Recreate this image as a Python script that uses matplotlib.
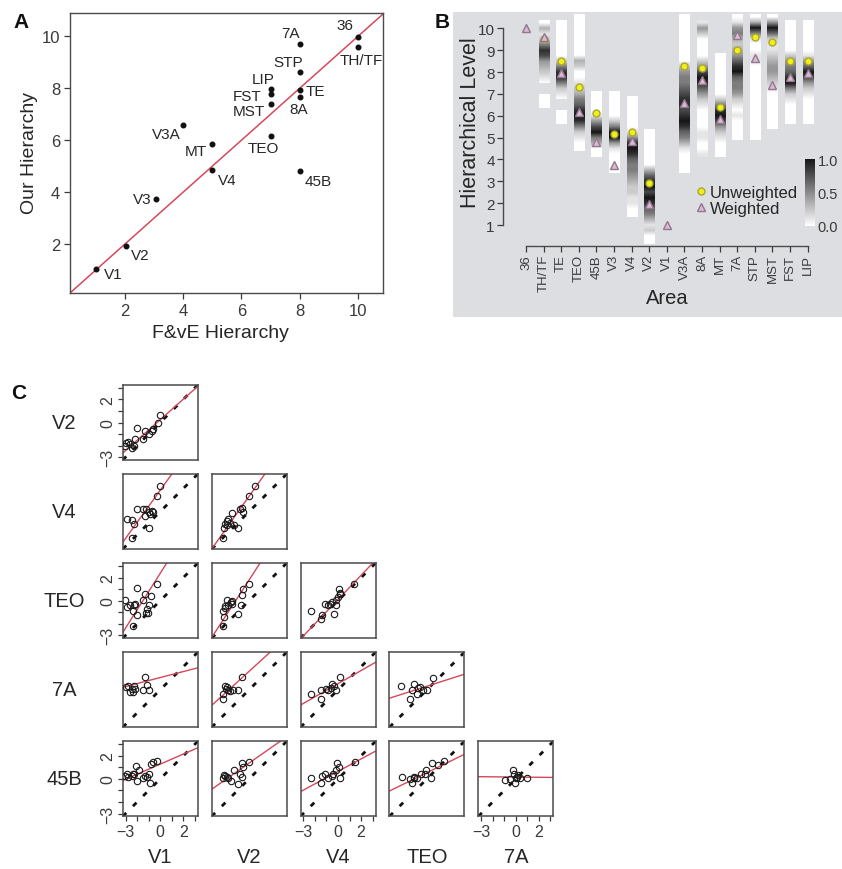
import numpy as np
import matplotlib.pyplot as plt
from matplotlib.patches import Rectangle
from matplotlib.lines import Line2D
from matplotlib.colors import LinearSegmentedColormap, Normalize
from matplotlib.cm import ScalarMappable

plt.rcParams['font.family'] = ['Liberation Sans', 'DejaVu Sans']
plt.rcParams['text.color'] = '#262626'
plt.rcParams['xtick.color'] = '#3a3a3a'
plt.rcParams['ytick.color'] = '#3a3a3a'

W, H = 842, 870
NAN = np.nan

# ---------------- panel A data ----------------
a_areas = ['V1', 'V2', 'V3', 'V3A', 'MT', 'V4', 'TEO', 'MST', 'FST', 'LIP',
           '45B', '8A', 'TE', 'STP', '7A', '36', 'TH/TF']
a_fve = [1, 2.05, 3.05, 4, 5, 5, 7, 7, 7, 7, 8, 8, 8, 8, 8, 10, 10]
a_ours = [1.04, 1.94, 3.73, 6.58, 5.85, 4.86, 6.16, 7.39, 7.78, 7.96,
          4.80, 7.65, 7.94, 8.63, 9.69, 9.98, 9.60]

# where the name sits relative to its dot (layout only)
a_label_off = {'V1': (0.6, -0.21), 'V2': (0.46, -0.37), 'V3': (-0.45, 0.0),
               'V3A': (-0.57, -0.34), 'MT': (-0.56, -0.26), 'V4': (0.5, -0.41),
               'TEO': (-0.25, -0.46), 'MST': (-0.76, -0.28), 'FST': (-0.8, -0.09),
               'LIP': (-0.27, 0.38), '45B': (0.64, -0.36), '8A': (-0.04, -0.45),
               'TE': (0.53, -0.05), 'STP': (-0.39, 0.4), '7A': (-0.33, 0.44),
               '36': (-0.44, 0.44), 'TH/TF': (0.1, -0.5)}

# ---------------- panel B data ----------------
b_areas = ['36', 'TH/TF', 'TE', 'TEO', '45B', 'V3', 'V4', 'V2', 'V1',
           'V3A', '8A', 'MT', '7A', 'STP', 'MST', 'FST', 'LIP']
b_unweighted = [NAN, 9.51, 8.52, 7.30, 6.13, 5.16, 5.24, 2.91, NAN,
                8.27, 8.17, 6.38, 9.02, 9.62, 9.36, 8.52, 8.52]
b_weighted = [10.0, 9.60, 7.94, 6.16, 4.80, 3.73, 4.86, 1.94, 1.0,
              6.58, 7.65, 5.85, 9.69, 8.63, 7.39, 7.78, 7.96]
# posterior density strips: top level, then one digit (0-9) per 0.25 level going down, '.' = none
b_strip_top = {'TH/TF': 10.25, 'TE': 10.25, 'TEO': 10.5, '45B': 7.0, 'V3': 7.0,
               'V4': 6.75, 'V2': 5.25, 'V3A': 10.5, '8A': 10.25, 'MT': 8.75,
               '7A': 10.5, 'STP': 10.5, 'MST': 10.5, 'FST': 10.25, 'LIP': 10.25}
b_strip_vals = {'TH/TF': '031258743210.000',
                'TE': '000000025885210.000',
                'TEO': '0000000032001235689852100',
                '45B': '000014795300',
                'V3': '000002599410000',
                'V4': '0000001489865543221100',
                'V2': '000000036897986531200',
                'V3A': '00000000024556788789865310000',
                '8A': '1420000247986421000011001',
                'MT': '0000000025897421000',
                '7A': '01453234689655421010000',
                'STP': '03951001100000000000000',
                'MST': '049621123443210000000',
                'FST': '0000002456895210000',
                'LIP': '0000001469742100000'}

# ---------------- panel C data ----------------
c_rows = ['V2', 'V4', 'TEO', '7A', '45B']
c_cols = ['V1', 'V2', 'V4', 'TEO', '7A']
pairs = {
    ('V2', 'V1'): [(-3.0, -1.75), (-2.8, -1.65), (-3.05, -2.0), (-2.6, -1.9), (-2.45, -2.25),
                   (-2.3, -2.0), (-2.15, -1.45), (-2.05, -0.5), (-1.45, -1.45), (-1.35, -0.7),
                   (-0.95, -1.0), (-0.75, -0.7), (-0.6, -0.6), (-0.2, 0.0), (0.0, 0.65)],
    ('V4', 'V1'): [(-2.9, -0.65), (-2.45, -0.75), (-2.45, -2.3), (-2.25, -1.1), (-2.05, 0.2),
                   (-1.45, 0.25), (-1.3, -0.35), (-1.2, 0.2), (-1.0, -1.4), (-0.95, -0.05),
                   (-0.85, -0.2), (-0.75, 0.05), (-0.65, 0.0), (-0.3, 1.35), (0.0, 2.25)],
    ('V4', 'V2'): [(-2.3, -2.3), (-2.2, -1.45), (-2.1, -1.1), (-1.95, -0.8), (-1.8, -0.65),
                   (-1.65, -0.95), (-1.95, -1.2), (-1.45, -0.15), (-1.3, -1.15), (-1.0, -1.4),
                   (-0.75, 0.25), (-0.65, 0.3), (-0.55, -0.05), (-0.05, 1.35), (0.55, 2.25)],
    ('TEO', 'V1'): [(-3.05, 0.07), (-2.9, -0.54), (-2.6, -0.36), (-2.38, -0.88), (-2.27, -0.39),
                    (-2.18, -0.3), (-2.04, 1.14), (-2.04, -1.26), (-2.33, -2.18), (-1.46, 0.07),
                    (-1.31, 0.56), (-1.23, -1.03), (-1.02, -1.08), (-0.94, -0.39), (-0.82, 0.42),
                    (-1.17, -0.74), (-0.3, 1.43)],
    ('TEO', 'V2'): [(-2.25, -2.2), (-2.2, -1.45), (-2.3, -0.9), (-2.1, -0.45), (-1.95, 0.05),
                    (-1.8, -0.4), (-1.5, -0.3), (-1.45, 0.0), (-1.0, -1.15), (-0.7, -0.4),
                    (-0.65, 0.5), (-0.5, 1.0), (-0.05, 1.45), (-2.05, -0.65), (-1.6, -0.1)],
    ('TEO', 'V4'): [(-2.3, -0.9), (-1.5, -1.55), (-1.35, -1.25), (-1.15, -0.3), (-0.85, -0.4),
                    (-0.7, -0.3), (-0.55, -0.15), (-0.35, -1.15), (-0.2, -0.4), (-0.15, 0.05),
                    (0.0, 0.35), (0.1, 1.05), (0.2, 0.55), (0.15, 0.7), (1.35, 1.45)],
    ('7A', 'V1'): [(-2.95, 0.2), (-2.8, 0.3), (-2.6, -0.2), (-2.45, 0.05), (-2.3, 0.3),
                   (-2.2, 0.05), (-2.35, -0.15), (-1.45, -0.05), (-1.3, 1.1), (-1.15, 0.45),
                   (-0.95, -0.05)],
    ('7A', 'V2'): [(-2.25, -0.8), (-2.3, -0.35), (-2.1, 0.3), (-1.95, 0.2), (-1.8, -0.05),
                   (-1.65, -0.1), (-1.4, -0.05), (-1.0, 0.0), (-0.65, 1.1), (-2.0, 0.05)],
    ('7A', 'V4'): [(-2.3, -0.35), (-1.45, -0.8), (-1.45, -0.05), (-1.05, 0.05), (-0.85, -0.05),
                   (-0.65, 0.15), (-0.5, 0.5), (-0.35, 0.3), (-0.15, -0.05), (0.15, 1.1)],
    ('7A', 'TEO'): [(-2.25, 0.3), (-1.45, -0.8), (-1.3, 0.0), (-1.1, 0.5), (-0.9, -0.35),
                    (-0.8, 0.15), (-0.6, 0.2), (-0.3, -0.05), (0.0, -0.05), (0.5, 1.0)],
    ('45B', 'V1'): [(-3.05, 0.25), (-2.9, 0.4), (-2.75, 0.15), (-2.45, 0.25), (-2.35, 0.4),
                    (-2.25, 0.4), (-2.1, 1.1), (-2.0, -0.15), (-1.8, 0.8), (-1.45, 0.05),
                    (-1.3, 0.25), (-1.15, 0.15), (-0.95, 0.4), (-0.9, -0.35), (-0.8, 1.3),
                    (-0.65, 1.5), (-0.3, 1.55)],
    ('45B', 'V2'): [(-2.3, 0.05), (-2.2, 0.35), (-2.1, 0.25), (-1.95, 0.15), (-1.8, 0.1),
                    (-1.6, -0.15), (-1.35, 0.75), (-1.0, -0.4), (-0.8, 0.4), (-0.65, 0.15),
                    (-0.65, 1.4), (-0.5, 1.05), (-0.05, 1.5)],
    ('45B', 'V4'): [(-2.3, 0.05), (-1.45, -0.35), (-1.35, 0.25), (-1.15, 0.4), (-0.85, 0.1),
                    (-0.55, 0.25), (-0.4, 0.4), (-0.15, 0.75), (-0.05, 1.4), (0.1, 1.0),
                    (0.2, 0.05), (1.45, 1.5)],
    ('45B', 'TEO'): [(-2.2, 0.15), (-1.45, -0.05), (-1.3, -0.35), (-1.15, 0.2), (-1.1, 0.05),
                     (-0.9, 0.1), (-0.55, 0.4), (-0.15, 0.4), (-0.05, 0.75), (0.35, 0.1),
                     (0.4, 1.4), (1.0, 1.2), (1.45, 1.55)],
    ('45B', '7A'): [(-0.95, -0.1), (-0.5, 0.0), (-0.2, 0.8), (-0.15, 0.4), (-0.05, -0.35),
                    (0.0, 0.05), (0.1, 0.15), (0.35, 0.05), (1.0, 0.05), (0.2, 0.3)],
}
# red regression lines (slope, intercept)
fits = {('V2', 'V1'): (0.89, 0.24), ('V4', 'V1'): (1.39, 1.85), ('V4', 'V2'): (1.41, 1.33),
        ('TEO', 'V1'): (1.58, 2.37), ('TEO', 'V2'): (1.54, 1.8), ('TEO', 'V4'): (1.05, 0.1),
        ('7A', 'V1'): (0.26, 1.06), ('7A', 'V2'): (0.91, 1.6), ('7A', 'V4'): (0.57, 0.53),
        ('7A', 'TEO'): (0.32, 0.31), ('45B', 'V1'): (0.435, 1.28), ('45B', 'V2'): (0.70, 1.37),
        ('45B', 'V4'): (0.54, 0.65), ('45B', 'TEO'): (0.49, 0.54), ('45B', '7A'): (-0.01, 0.16)}

fig = plt.figure(figsize=(W / 100, H / 100), dpi=100)


def px_axes(x0, y0, w, h):
    return fig.add_axes([x0 / W, 1 - (y0 + h) / H, w / W, h / H])


def px_text(x, y, s, **kw):
    kw.setdefault('ha', 'center')
    kw.setdefault('va', 'center')
    return fig.text(x / W, 1 - y / H, s, **kw)


frame_col = '#4a4a4a'
red = '#d6485a'

# ================= A =================
ax = px_axes(70, 14, 313, 280)
ax.axline((0, 0), slope=1, color=red, lw=1.1, zorder=1)
ax.plot(a_fve, a_ours, 'o', color='#111111', ms=3.3, zorder=3)
for name, xv, yv in zip(a_areas, a_fve, a_ours):
    dx, dy = a_label_off[name]
    ax.text(xv + dx, yv + dy, name, ha='center', va='center', fontsize=11)
ax.set_xlim(0.11, 10.86)
ax.set_ylim(0.11, 10.9)
ax.set_xticks([2, 4, 6, 8, 10])
ax.set_yticks([2, 4, 6, 8, 10])
ax.tick_params(length=4, width=0.9, labelsize=12, pad=3, direction='out')
for s in ax.spines.values():
    s.set_color(frame_col)
    s.set_linewidth(1.0)
px_text(220, 333, 'F&vE Hierarchy', fontsize=14)
px_text(30, 153, 'Our Hierarchy', fontsize=14, rotation=90)
px_text(21, 22, 'A', fontsize=15, fontweight='bold', color='#111111')

# ================= B =================
fig.patches.append(Rectangle((453 / W, 1 - 318 / H), (W - 453) / W, (318 - 13) / H,
                             transform=fig.transFigure, facecolor='#dcdee1',
                             edgecolor='none', zorder=-5))
cmap = LinearSegmentedColormap.from_list('dens', ['#ffffff', '#161616'])
bx = px_axes(503, 14, W - 503, 232.7)
bx.set_facecolor('none')
bx.set_xlim(-1.307, 17.95)
bx.set_ylim(0.053, 10.70)
for i, name in enumerate(b_areas):
    if name not in b_strip_vals:
        continue
    vals = np.array([NAN if c == '.' else int(c) / 9 for c in b_strip_vals[name]])
    top = b_strip_top[name]
    n = len(vals)
    bx.imshow(np.ma.masked_invalid(vals[:, None]), cmap=cmap, vmin=0, vmax=1,
              extent=(i - 0.29, i + 0.29, top - 0.25 * (n - 1) - 0.125, top + 0.125),
              aspect='auto', interpolation='bilinear', zorder=1)
idx = np.arange(len(b_areas))
bx.plot(idx, b_unweighted, 'o', ls='none', ms=5, mfc='#f0ef1c', mec='#a9a72c', mew=1.0, zorder=3)
bx.plot(idx, b_weighted, '^', ls='none', ms=5.5, mfc='#d8bad2', mec='#947590', mew=1.0, zorder=4)
for k in ['top', 'right']:
    bx.spines[k].set_visible(False)
bx.spines['left'].set_bounds(1, 10)
bx.spines['bottom'].set_bounds(0, 16)
for k in ['left', 'bottom']:
    bx.spines[k].set_color(frame_col)
    bx.spines[k].set_linewidth(1.0)
bx.set_yticks(range(1, 11))
bx.set_xticks(idx)
bx.set_xticklabels(b_areas, rotation=90, fontsize=9.5)
bx.tick_params(axis='y', labelsize=11, length=4, width=0.9, pad=2)
bx.tick_params(axis='x', length=4, width=0.9, pad=2)
px_text(471, 123, 'Hierarchical Level', fontsize=15.5, rotation=90)
px_text(667, 298, 'Area', fontsize=14.5)
px_text(442, 22, 'B', fontsize=15, fontweight='bold', color='#111111')

handles = [Line2D([], [], marker='o', ls='none', ms=5, mfc='#f0ef1c', mec='#a9a72c', mew=1.0),
           Line2D([], [], marker='^', ls='none', ms=5.5, mfc='#d8bad2', mec='#947590', mew=1.0)]
bx.legend(handles, ['Unweighted', 'Weighted'], loc='upper left',
          bbox_to_anchor=(696 / W, 1 - 186 / H), bbox_transform=fig.transFigure,
          frameon=False, fontsize=12, handlelength=0.6, handletextpad=0.25,
          labelspacing=0.05, borderpad=0, borderaxespad=0)

# colour key, shifted a touch left so its labels stay inside the figure
cax = px_axes(805, 160, 10, 67)
cb = fig.colorbar(ScalarMappable(norm=Normalize(0, 1), cmap=cmap), cax=cax, ticks=[0, 0.5, 1])
cb.outline.set_visible(False)
cb.ax.set_yticklabels(['0.0', '0.5', '1.0'])
cb.ax.tick_params(length=0, labelsize=10.5, pad=2)

# ================= C =================
for i, rn in enumerate(c_rows):
    for j, cn in enumerate(c_cols[:i + 1]):
        cx = px_axes(122.7 + 88.9 * j, 386 + 89.1 * i, 75, 75)
        pts = np.array(pairs[(rn, cn)])
        cx.axline((0, 0), slope=1, color='#111111', lw=2.0, dashes=(1.8, 3.4), zorder=1)
        m, b = fits[(rn, cn)]
        cx.axline((0, b), slope=m, color=red, lw=1.0, zorder=2)
        cx.plot(pts[:, 0], pts[:, 1], 'o', mfc='none', mec='#1a1a1a', ms=4.6, mew=0.8, zorder=3)
        cx.set_xlim(-3.25, 3.25)
        cx.set_ylim(-3.25, 3.25)
        for s in cx.spines.values():
            s.set_color(frame_col)
            s.set_linewidth(1.1)
        ticks = list(range(-3, 4))
        tlabels = ['\u22123' if t == -3 else str(t) if t in (0, 2) else '' for t in ticks]
        if j == 0 and i % 2 == 0:
            cx.set_yticks(ticks)
            cx.set_yticklabels(tlabels, rotation=90, va='center')
        else:
            cx.set_yticks([])
        if i == len(c_rows) - 1 and j % 2 == 0:
            cx.set_xticks(ticks)
            cx.set_xticklabels(tlabels)
        else:
            cx.set_xticks([])
        cx.tick_params(length=3.5, width=0.9, labelsize=11.5, pad=2)

for i, rn in enumerate(c_rows):
    px_text(64, 386 + 89.1 * i + 37.5, rn, fontsize=14.5)
for j, cn in enumerate(c_cols):
    px_text(122.7 + 88.9 * j + 37.5, 858, cn, fontsize=14.5)
px_text(19, 394, 'C', fontsize=15, fontweight='bold', color='#111111')

fig.savefig('out.png', dpi=100)
